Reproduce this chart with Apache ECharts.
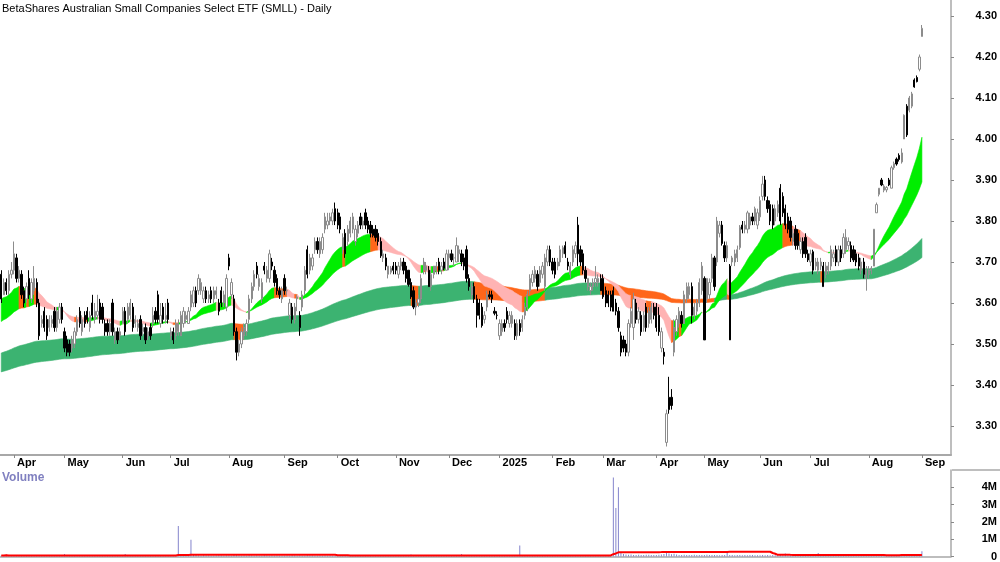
<!DOCTYPE html>
<html><head><meta charset="utf-8">
<script src="https://cdn.jsdelivr.net/npm/echarts@6/dist/echarts.min.js"></script>
<style>html,body{margin:0;padding:0;background:#fff}#c{width:1000px;height:562px}</style>
</head><body><div id="c"></div>
<script>
// ---- data: daily candles [open, high, low, close] per month ----
const c2403 = [[3.67,3.68,3.60,3.61],[3.62,3.66,3.62,3.65],[3.65,3.66,3.62,3.63],[3.63,3.68,3.62,3.67],[3.67,3.70,3.66,3.68]];
const c2404 = [[3.68,3.75,3.67,3.72],[3.71,3.72,3.65,3.66],[3.66,3.69,3.65,3.68],[3.67,3.68,3.61,3.62],[3.63,3.64,3.59,3.60],
 [3.61,3.65,3.60,3.64],[3.66,3.68,3.61,3.62],[3.61,3.66,3.60,3.65],[3.63,3.69,3.62,3.66],[3.65,3.66,3.59,3.60],
 [3.60,3.61,3.51,3.52],[3.55,3.57,3.54,3.56],[3.58,3.59,3.53,3.54],[3.56,3.57,3.51,3.52],[3.54,3.57,3.53,3.56],
 [3.55,3.57,3.54,3.56],[3.58,3.59,3.53,3.54],[3.54,3.59,3.53,3.58],[3.56,3.60,3.55,3.59],[3.59,3.60,3.55,3.56]];
const c2405 = [[3.53,3.54,3.48,3.49],[3.51,3.52,3.47,3.48],[3.50,3.51,3.47,3.48],[3.49,3.52,3.48,3.51],[3.50,3.54,3.49,3.53],
 [3.53,3.57,3.52,3.56],[3.58,3.59,3.54,3.55],[3.53,3.57,3.52,3.56],[3.57,3.58,3.54,3.55],[3.58,3.59,3.55,3.56],
 [3.54,3.58,3.53,3.57],[3.60,3.62,3.56,3.57],[3.56,3.60,3.55,3.58],[3.57,3.62,3.56,3.58],[3.60,3.61,3.55,3.56],
 [3.59,3.60,3.55,3.56],[3.55,3.56,3.52,3.53],[3.55,3.56,3.52,3.53],[3.53,3.56,3.52,3.55],[3.60,3.61,3.52,3.53],
 [3.51,3.54,3.50,3.53],[3.53,3.54,3.50,3.51],[3.52,3.54,3.51,3.53]];
const c2406 = [[3.55,3.59,3.55,3.58],[3.58,3.59,3.52,3.53],[3.56,3.60,3.55,3.59],[3.57,3.61,3.56,3.60],[3.59,3.60,3.53,3.54],
 [3.55,3.57,3.54,3.56],[3.54,3.56,3.53,3.55],[3.56,3.57,3.51,3.52],[3.53,3.55,3.52,3.54],[3.54,3.55,3.50,3.51],
 [3.52,3.54,3.51,3.53],[3.54,3.55,3.51,3.52],[3.55,3.59,3.54,3.57],[3.58,3.59,3.55,3.56],[3.62,3.63,3.55,3.56],
 [3.55,3.60,3.54,3.57],[3.59,3.60,3.55,3.56],[3.56,3.60,3.55,3.57],[3.60,3.61,3.55,3.56]];
const c2407 = [[3.52,3.54,3.51,3.53],[3.53,3.54,3.50,3.51],[3.52,3.56,3.51,3.55],[3.53,3.56,3.52,3.55],[3.52,3.58,3.52,3.57],
 [3.55,3.59,3.54,3.58],[3.56,3.58,3.55,3.57],[3.55,3.59,3.55,3.58],[3.59,3.63,3.58,3.62],[3.60,3.64,3.59,3.63],
 [3.63,3.64,3.59,3.60],[3.63,3.67,3.62,3.66],[3.63,3.66,3.62,3.65],[3.61,3.64,3.60,3.63],[3.63,3.64,3.60,3.61],
 [3.61,3.63,3.60,3.62],[3.63,3.64,3.60,3.61],[3.61,3.64,3.60,3.63],[3.62,3.64,3.61,3.63],[3.60,3.61,3.57,3.58],
 [3.63,3.64,3.59,3.60],[3.60,3.63,3.59,3.62],[3.59,3.67,3.58,3.66]];
const c2408 = [[3.71,3.72,3.68,3.69],[3.62,3.66,3.61,3.65],[3.61,3.62,3.52,3.53],[3.53,3.54,3.46,3.48],[3.48,3.51,3.47,3.50],
 [3.50,3.54,3.49,3.53],[3.52,3.55,3.51,3.54],[3.53,3.56,3.52,3.55],[3.56,3.62,3.55,3.61],[3.61,3.65,3.60,3.64],
 [3.64,3.68,3.63,3.67],[3.69,3.70,3.66,3.67],[3.64,3.67,3.63,3.66],[3.61,3.66,3.60,3.65],[3.69,3.70,3.67,3.68],
 [3.66,3.69,3.65,3.68],[3.66,3.73,3.65,3.72],[3.70,3.71,3.68,3.69],[3.68,3.69,3.64,3.65],[3.66,3.67,3.62,3.63],
 [3.63,3.64,3.61,3.62],[3.61,3.64,3.60,3.63]];
const c2409 = [[3.66,3.67,3.62,3.63],[3.63,3.64,3.62,3.63],[3.57,3.61,3.56,3.60],[3.59,3.60,3.55,3.56],[3.56,3.60,3.55,3.59],
 [3.61,3.62,3.58,3.615],[3.57,3.58,3.52,3.54],[3.59,3.63,3.58,3.62],[3.63,3.69,3.62,3.68],[3.73,3.74,3.66,3.67],
 [3.68,3.72,3.67,3.71],[3.69,3.72,3.68,3.71],[3.73,3.76,3.72,3.75],[3.75,3.76,3.72,3.73],[3.72,3.76,3.71,3.75],
 [3.73,3.77,3.72,3.76],[3.78,3.82,3.77,3.81],[3.79,3.82,3.78,3.80],[3.80,3.82,3.79,3.81],[3.80,3.83,3.79,3.82],
 [3.83,3.845,3.79,3.80]];
const c2410 = [[3.82,3.83,3.78,3.79],[3.81,3.82,3.77,3.78],[3.73,3.77,3.72,3.76],[3.77,3.78,3.71,3.72],[3.75,3.79,3.74,3.78],
 [3.77,3.81,3.76,3.80],[3.78,3.82,3.77,3.81],[3.75,3.79,3.74,3.78],[3.77,3.80,3.76,3.79],[3.81,3.82,3.78,3.79],
 [3.79,3.81,3.78,3.80],[3.82,3.83,3.78,3.79],[3.80,3.81,3.77,3.78],[3.79,3.80,3.76,3.77],[3.78,3.79,3.76,3.765],
 [3.78,3.79,3.75,3.76],[3.77,3.78,3.74,3.75],[3.75,3.76,3.71,3.715],[3.71,3.73,3.70,3.72],[3.71,3.72,3.68,3.69],
 [3.67,3.69,3.66,3.69],[3.675,3.69,3.67,3.685],[3.69,3.70,3.67,3.68]];
const c2411 = [[3.69,3.70,3.67,3.68],[3.67,3.70,3.66,3.69],[3.69,3.71,3.68,3.70],[3.70,3.71,3.67,3.68],[3.69,3.70,3.65,3.66],
 [3.68,3.68,3.64,3.645],[3.65,3.66,3.61,3.615],[3.63,3.64,3.585,3.59],[3.59,3.61,3.57,3.60],[3.60,3.62,3.59,3.61],
 [3.61,3.67,3.60,3.66],[3.68,3.71,3.67,3.70],[3.68,3.70,3.67,3.69],[3.68,3.69,3.64,3.64],[3.64,3.68,3.63,3.67],
 [3.67,3.69,3.66,3.69],[3.68,3.70,3.67,3.69],[3.70,3.71,3.67,3.68],[3.68,3.70,3.67,3.69],[3.70,3.71,3.68,3.685],
 [3.68,3.73,3.68,3.72]];
const c2412 = [[3.71,3.73,3.68,3.72],[3.72,3.73,3.70,3.705],[3.71,3.72,3.69,3.71],[3.70,3.76,3.70,3.74],[3.72,3.74,3.70,3.73],
 [3.72,3.73,3.69,3.70],[3.71,3.72,3.68,3.69],[3.73,3.74,3.65,3.66],[3.66,3.67,3.63,3.64],[3.62,3.65,3.61,3.64],
 [3.64,3.65,3.60,3.61],[3.61,3.62,3.54,3.57],[3.60,3.61,3.56,3.57],[3.59,3.60,3.54,3.545],[3.56,3.58,3.55,3.57],
 [3.59,3.63,3.58,3.62],[3.62,3.63,3.61,3.615],[3.62,3.63,3.60,3.61],[3.58,3.59,3.57,3.575],[3.57,3.58,3.56,3.57]];
const c2501 = [[3.52,3.56,3.51,3.55],[3.53,3.56,3.52,3.55],[3.55,3.56,3.53,3.54],[3.58,3.59,3.55,3.56],[3.55,3.58,3.54,3.57],
 [3.55,3.58,3.54,3.57],[3.55,3.56,3.51,3.52],[3.52,3.56,3.51,3.55],[3.55,3.56,3.52,3.53],[3.54,3.57,3.53,3.56],
 [3.57,3.60,3.56,3.59],[3.59,3.63,3.58,3.62],[3.63,3.67,3.62,3.66],[3.65,3.68,3.64,3.67],[3.66,3.69,3.65,3.68],
 [3.67,3.68,3.63,3.64],[3.65,3.69,3.64,3.68],[3.67,3.70,3.66,3.69],[3.64,3.72,3.63,3.71],[3.70,3.74,3.69,3.73],
 [3.73,3.74,3.69,3.70]];
const c2502 = [[3.70,3.71,3.67,3.68],[3.70,3.71,3.66,3.67],[3.69,3.71,3.68,3.70],[3.70,3.74,3.69,3.73],[3.72,3.74,3.71,3.735],
 [3.74,3.75,3.71,3.72],[3.70,3.71,3.68,3.69],[3.67,3.70,3.66,3.69],[3.70,3.74,3.69,3.73],[3.72,3.75,3.71,3.74],
 [3.79,3.81,3.69,3.72],[3.73,3.74,3.69,3.70],[3.72,3.73,3.67,3.68],[3.68,3.69,3.65,3.66],[3.64,3.66,3.63,3.66],
 [3.63,3.65,3.62,3.64],[3.64,3.66,3.63,3.65],[3.65,3.69,3.64,3.66],[3.65,3.67,3.64,3.66],[3.66,3.67,3.63,3.63]];
const c2503 = [[3.66,3.67,3.61,3.615],[3.63,3.64,3.59,3.60],[3.62,3.63,3.59,3.60],[3.62,3.63,3.58,3.59],[3.63,3.64,3.58,3.58],
 [3.60,3.61,3.57,3.58],[3.58,3.59,3.53,3.54],[3.52,3.53,3.47,3.48],[3.51,3.52,3.48,3.49],[3.50,3.51,3.47,3.48],
 [3.48,3.56,3.47,3.55],[3.55,3.59,3.54,3.58],[3.54,3.625,3.51,3.61],[3.60,3.61,3.55,3.56],[3.56,3.59,3.55,3.58],
 [3.57,3.58,3.52,3.53],[3.54,3.58,3.53,3.57],[3.59,3.60,3.53,3.54],[3.55,3.59,3.54,3.58],[3.56,3.60,3.55,3.59],
 [3.59,3.60,3.56,3.57]];
const c2504 = [[3.59,3.60,3.53,3.54],[3.57,3.59,3.52,3.53],[3.49,3.54,3.48,3.53],[3.48,3.49,3.45,3.47],[3.26,3.34,3.25,3.33],
 [3.37,3.42,3.33,3.34],[3.37,3.39,3.34,3.35],[3.48,3.56,3.47,3.54],[3.53,3.57,3.52,3.56],[3.55,3.59,3.54,3.58],
 [3.57,3.58,3.54,3.55],[3.55,3.63,3.55,3.62],[3.61,3.65,3.60,3.64],[3.62,3.65,3.61,3.64],[3.64,3.65,3.55,3.57],
 [3.57,3.60,3.56,3.59],[3.58,3.61,3.57,3.60],[3.60,3.66,3.59,3.65],[3.63,3.70,3.62,3.69]];
const c2505 = [[3.66,3.665,3.51,3.51],[3.61,3.66,3.60,3.66],[3.62,3.66,3.61,3.65],[3.66,3.72,3.65,3.71],[3.71,3.715,3.63,3.64],
 [3.70,3.81,3.69,3.80],[3.77,3.80,3.76,3.79],[3.79,3.80,3.74,3.745],[3.74,3.75,3.70,3.71],[3.71,3.75,3.70,3.74],
 [3.69,3.695,3.51,3.51],[3.70,3.715,3.69,3.71],[3.70,3.73,3.69,3.72],[3.71,3.74,3.70,3.73],[3.735,3.79,3.73,3.785],
 [3.79,3.80,3.77,3.78],[3.78,3.80,3.77,3.79],[3.78,3.825,3.77,3.82],[3.79,3.82,3.78,3.81],[3.81,3.82,3.79,3.80],
 [3.80,3.835,3.79,3.83],[3.79,3.83,3.78,3.82]];
const c2506 = [[3.81,3.86,3.80,3.85],[3.86,3.91,3.85,3.89],[3.90,3.91,3.85,3.86],[3.85,3.86,3.82,3.83],[3.84,3.85,3.79,3.80],
 [3.83,3.84,3.78,3.79],[3.80,3.84,3.79,3.83],[3.82,3.85,3.81,3.84],[3.88,3.89,3.79,3.80],[3.86,3.87,3.81,3.82],
 [3.83,3.84,3.78,3.79],[3.81,3.82,3.77,3.78],[3.80,3.81,3.75,3.76],[3.75,3.78,3.74,3.77],[3.78,3.79,3.73,3.74],
 [3.77,3.78,3.73,3.74],[3.73,3.76,3.72,3.75],[3.75,3.76,3.71,3.72],[3.76,3.77,3.71,3.72],[3.72,3.73,3.70,3.705]];
const c2507 = [[3.70,3.73,3.69,3.72],[3.725,3.73,3.67,3.68],[3.69,3.71,3.68,3.70],[3.68,3.71,3.67,3.70],[3.69,3.71,3.68,3.70],
 [3.69,3.70,3.64,3.64],[3.67,3.70,3.66,3.69],[3.68,3.70,3.67,3.69],[3.69,3.74,3.68,3.73],[3.71,3.73,3.70,3.72],
 [3.73,3.74,3.69,3.70],[3.70,3.74,3.69,3.73],[3.73,3.74,3.70,3.71],[3.72,3.77,3.71,3.76],[3.73,3.78,3.72,3.76],
 [3.74,3.76,3.73,3.75],[3.74,3.75,3.70,3.71],[3.73,3.74,3.70,3.705],[3.72,3.73,3.69,3.70],[3.71,3.72,3.68,3.69],
 [3.68,3.71,3.67,3.70],[3.70,3.71,3.66,3.67],[3.66,3.69,3.63,3.68]];
const c2508 = [[3.67,3.69,3.66,3.68],[3.68,3.69,3.67,3.685],[3.69,3.78,3.69,3.78],[3.82,3.845,3.82,3.84],[3.865,3.88,3.86,3.88],
 [3.90,3.905,3.885,3.888],[3.875,3.89,3.87,3.885],[3.876,3.885,3.87,3.882],[3.90,3.905,3.885,3.888],[3.88,3.935,3.88,3.93],
 [3.93,3.945,3.925,3.94],[3.951,3.955,3.935,3.939],[3.96,3.965,3.945,3.95],[3.944,3.977,3.94,3.966],[4.00,4.06,4.00,4.058],
 [4.08,4.085,4.005,4.01],[4.07,4.105,4.065,4.10],[4.08,4.115,4.075,4.11],[4.144,4.148,4.125,4.127],[4.15,4.155,4.138,4.14],
 [4.17,4.206,4.165,4.20]];
const c2509 = [[4.25,4.278,4.25,4.27]];

// volume per month, thousands of units
const v2403 = [60,45,110,40,55];
const v2404 = [50,70,40,35,60,45,80,50,40,30,90,60,45,50,70,40,55,35,60,45];
const v2405 = [150,60,50,40,70,55,45,60,80,40,50,65,45,70,40,55,60,80,50,45,60,70,50];
const v2406 = [60,140,50,45,70,55,40,60,50,45,80,55,60,40,70,50,45,60,55];
const v2407 = [70,60,55,1770,60,50,45,60,970,150,80,60,50,70,55,60,45,50,60,70,55,40,60];
const v2408 = [60,50,80,70,55,45,60,50,70,55,40,60,50,45,70,60,50,55,45,60,50,40];
const v2409 = [50,60,45,70,55,40,60,50,45,70,60,55,50,45,60,40,55,50,65,45,50];
const v2410 = [60,45,50,70,55,60,40,50,65,45,55,60,50,45,70,55,40,60,50,45,55,60,50];
const v2411 = [45,60,50,55,40,60,120,50,45,60,55,50,40,60,45,50,55,60,45,50,40];
const v2412 = [50,60,45,55,40,150,60,50,45,55,60,50,40,55,45,60,50,40,45,50];
const v2501 = [45,50,60,40,55,50,45,60,630,50,45,55,40,60,50,45,55,50,60,45,50];
const v2502 = [50,45,55,60,40,50,45,55,60,50,45,40,55,50,60,45,50,55,40,60];
const v2503 = [50,60,45,55,4570,2800,4000,200,150,120,100,110,90,80,100,90,85,100,95,80,90];
const v2504 = [90,100,120,150,200,180,130,160,110,90,80,100,90,85,80,95,90,80,85];
const v2505 = [90,100,80,85,90,80,75,85,90,200,85,90,75,80,85,70,80,75,80,80,70,75];
const v2506 = [70,80,75,85,70,80,75,70,80,75,180,65,75,70,80,75,70,65,75,70];
const v2507 = [150,70,65,200,60,70,65,60,70,150,65,60,70,65,60,70,65,60,70,65,60,70,65];
const v2508 = [70,80,90,85,80,75,90,80,85,80,90,85,80,90,100,95,90,85,95,100,110];
const v2509 = [300];

const monthCandles = [c2403,c2404,c2405,c2406,c2407,c2408,c2409,c2410,c2411,c2412,c2501,c2502,c2503,c2504,c2505,c2506,c2507,c2508,c2509];
const monthVolumes = [v2403,v2404,v2405,v2406,v2407,v2408,v2409,v2410,v2411,v2412,v2501,v2502,v2503,v2504,v2505,v2506,v2507,v2508,v2509];
const monthLabels = ['Mar','Apr','May','Jun','Jul','Aug','Sep','Oct','Nov','Dec','2025','Feb','Mar','Apr','May','Jun','Jul','Aug','Sep'];
const futureSlots = 11;

// indicator settings (EMA periods and their values at the first candle)
const shortPeriods = [21, 45], shortSeeds = [3.61, 3.555];
const longPeriods = [150, 240], longSeeds = [3.478, 3.432];
const volMaPeriod = 63;

// ---- build ----
const cats = [], labelAt = {}, candles = [], closes = [], vols = [];
monthCandles.forEach((m, mi) => {
  m.forEach((d, di) => {
    const idx = cats.length;
    cats.push(monthLabels[mi] + '-' + di);
    if (di === 0 && mi > 0) labelAt[idx] = monthLabels[mi];
    candles.push([d[0], d[3], d[2], d[1]]);
    closes.push(d[3]);
    vols.push(monthVolumes[mi][di] * 1000);
  });
});
const N = closes.length;
for (let i = 0; i < futureSlots; i++) cats.push('f' + i);

function ema(vals, n, seed) {
  const k = 2 / (n + 1), out = [seed];
  for (let i = 1; i < vals.length; i++) out.push(out[i - 1] + k * (vals[i] - out[i - 1]));
  return out;
}
const sF = ema(closes, shortPeriods[0], shortSeeds[0]);
const sS = ema(closes, shortPeriods[1], shortSeeds[1]);
const lF = ema(closes, longPeriods[0], longSeeds[0]);
const lS = ema(closes, longPeriods[1], longSeeds[1]);
const lo = (f, s) => f.map((v, i) => Math.min(v, s[i]));
const hi = (f, s) => f.map((v, i) => Math.max(v, s[i]));
const sLo = lo(sF, sS), sHi = hi(sF, sS), lLo = lo(lF, lS), lHi = hi(lF, lS);

// short ribbon state per segment: 0 both EMAs rising, 1 both falling, 2 mixed
const shortState = [];
for (let i = 0; i < N - 1; i++) {
  const fr = sF[i + 1] >= sF[i], sr = sS[i + 1] >= sS[i];
  shortState.push(fr && sr ? 0 : (!fr && !sr ? 1 : 2));
}
// long ribbon state: 1 after a close below the ribbon; back to 0 once close and short ribbon are above it
const longState = [];
let ls = 0;
for (let i = 1; i < N; i++) {
  if (closes[i] < lLo[i]) ls = 1; else if (closes[i] > lHi[i] && sF[i] > lHi[i]) ls = 0;
  longState.push(ls);
}
function runs(states) {
  const out = [];
  let s = 0;
  for (let i = 1; i <= states.length; i++) {
    if (i === states.length || states[i] !== states[s]) { out.push([s, i, states[s]]); s = i; }
  }
  return out; // [firstIndex, lastIndex, state]
}
const shortRuns = runs(shortState), longRuns = runs(longState);

const volMa = vols.map((v, i) => {
  const a = Math.max(0, i - volMaPeriod + 1);
  let s = 0; for (let j = a; j <= i; j++) s += vols[j];
  return s / (i - a + 1);
});

const shortColors = ['#00ee00', '#ffb3b3', '#ff661a'];
const longColors = ['#3cb371', '#ff661a'];
function bandRender(loArr, hiArr, colors) {
  return function (params, api) {
    const a = api.value(0), b = api.value(1);
    const pts = [];
    for (let j = a; j <= b; j++) pts.push(api.coord([j, loArr[j]]));
    for (let j = b; j >= a; j--) pts.push(api.coord([j, hiArr[j]]));
    const col = colors[api.value(2)];
    return { type: 'polygon', shape: { points: pts }, style: { fill: col, stroke: col, lineWidth: 0.6 } };
  };
}

const FONT = 'Liberation Sans, Arial, sans-serif';
const isMonth = (idx) => labelAt[idx] !== undefined;
const chart = echarts.init(document.getElementById('c'), null, { renderer: 'canvas' });
chart.setOption({
  animation: false,
  backgroundColor: '#fff',
  title: [
    { text: 'BetaShares Australian Small Companies Select ETF (SMLL) - Daily', left: 2, top: 3, padding: 0,
      textStyle: { fontSize: 11, fontWeight: 'normal', color: '#000', fontFamily: FONT } },
    { text: 'Volume', left: 2, top: 472, padding: 0,
      textStyle: { fontSize: 12, fontWeight: 'bold', color: '#8080c0', fontFamily: FONT } }
  ],
  grid: [
    { left: 0, right: 48, top: 0, bottom: 107 },
    { left: 0, right: 48, top: 470, bottom: 5 }
  ],
  xAxis: [
    { type: 'category', gridIndex: 0, data: cats, boundaryGap: true,
      axisLine: { show: true, lineStyle: { color: '#a8a8a8', width: 2 } },
      axisTick: { show: true, alignWithLabel: true, interval: (i) => isMonth(i), length: 3, lineStyle: { color: '#888' } },
      axisLabel: { interval: (i) => isMonth(i), formatter: (v, i) => ' ' + (labelAt[i] || ''), align: 'left',
        margin: 2, fontSize: 11, fontWeight: 'bold', color: '#000', fontFamily: FONT },
      splitLine: { show: false } },
    { type: 'category', gridIndex: 1, data: cats, boundaryGap: true, position: 'top',
      axisLine: { show: true, lineStyle: { color: '#a8a8a8', width: 1.5 } },
      axisTick: { show: false }, axisLabel: { show: false }, splitLine: { show: false } }
  ],
  yAxis: [
    { type: 'value', gridIndex: 0, position: 'right', min: 3.2293, max: 4.339, splitNumber: 10,
      axisLine: { show: true, lineStyle: { color: '#a8a8a8', width: 1.5 } },
      axisTick: { show: true, length: 3, lineStyle: { color: '#888' } },
      axisLabel: { showMinLabel: false, showMaxLabel: false, formatter: (v) => v.toFixed(2), align: 'right', margin: 46,
        fontSize: 11, fontWeight: 'bold', color: '#000', fontFamily: FONT },
      splitLine: { show: false } },
    { type: 'value', gridIndex: 1, position: 'right', min: 0, max: 5000000, interval: 1000000,
      axisLine: { show: true, lineStyle: { color: '#a8a8a8', width: 1.5 } },
      axisTick: { show: true, length: 3, lineStyle: { color: '#888' } },
      axisLabel: { showMaxLabel: false, formatter: (v) => v === 0 ? '0' : (v / 1e6) + 'M', align: 'right', margin: 46,
        fontSize: 11, fontWeight: 'bold', color: '#000', fontFamily: FONT },
      splitLine: { show: false } }
  ],
  graphic: [
    { type: 'line', shape: { x1: 952, y1: 470, x2: 1000, y2: 470 }, style: { stroke: '#a8a8a8', lineWidth: 1.5 } }
  ],
  series: [
    { type: 'custom', name: 'long', xAxisIndex: 0, yAxisIndex: 0, data: longRuns, renderItem: bandRender(lLo, lHi, longColors),
      encode: { x: [0, 1] }, z: 1, clip: true, silent: true },
    { type: 'custom', name: 'short', xAxisIndex: 0, yAxisIndex: 0, data: shortRuns, renderItem: bandRender(sLo, sHi, shortColors),
      encode: { x: [0, 1] }, z: 2, clip: true, silent: true },
    { type: 'candlestick', xAxisIndex: 0, yAxisIndex: 0, data: candles, barWidth: 1.8, z: 3,
      itemStyle: { color: '#ffffff', color0: '#000000', borderColor: '#8c8c8c', borderColor0: '#000000', borderWidth: 1 } },
    { type: 'bar', xAxisIndex: 1, yAxisIndex: 1, data: vols, barWidth: 1, itemStyle: { color: '#8484cc' }, z: 2 },
    { type: 'line', xAxisIndex: 1, yAxisIndex: 1, data: volMa, showSymbol: false, symbol: 'none',
      lineStyle: { color: '#ff0000', width: 2 }, z: 3 }
  ]
});
</script></body></html>
